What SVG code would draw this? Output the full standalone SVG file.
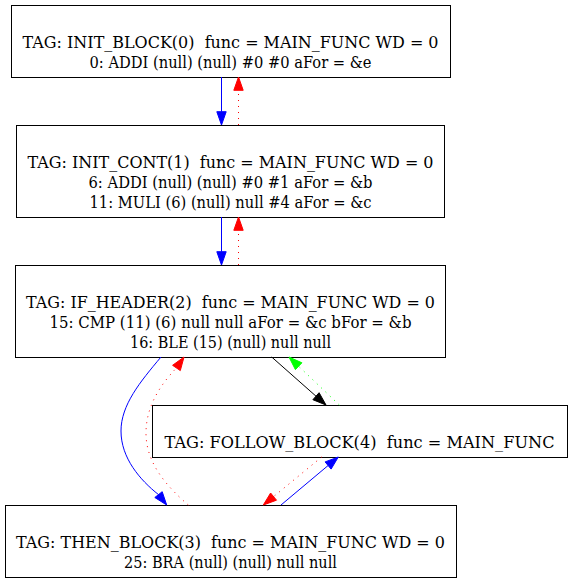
<svg xmlns="http://www.w3.org/2000/svg" width="573" height="583" viewBox="0 0 573 583">
<style>
.box{fill:#ffffff;stroke:#000000;stroke-width:1}
.lbl{font-family:'DejaVu Serif','Liberation Serif',serif;font-size:16.5px;fill:#000000;text-anchor:middle;white-space:pre}
.e{fill:none;stroke-width:1}
.dot{stroke-dasharray:1,5}
</style>
<rect x="0" y="0" width="573" height="583" fill="#ffffff"/>
<g id="node0">
<rect class="box" x="11.5" y="5.5" width="439" height="72"/>
<text class="lbl" x="230.5" y="47.7" xml:space="preserve" textLength="416" lengthAdjust="spacingAndGlyphs">TAG: INIT_BLOCK(0)  func = MAIN_FUNC WD = 0</text>
<text class="lbl" x="230.5" y="67.7" xml:space="preserve" textLength="282" lengthAdjust="spacingAndGlyphs">0: ADDI (null) (null) #0 #0 aFor = &amp;e</text>
</g>
<g id="node1">
<rect class="box" x="16.5" y="125.5" width="428" height="92"/>
<text class="lbl" x="230.5" y="167.7" xml:space="preserve" textLength="406" lengthAdjust="spacingAndGlyphs">TAG: INIT_CONT(1)  func = MAIN_FUNC WD = 0</text>
<text class="lbl" x="230.5" y="187.7" xml:space="preserve" textLength="284" lengthAdjust="spacingAndGlyphs">6: ADDI (null) (null) #0 #1 aFor = &amp;b</text>
<text class="lbl" x="230.5" y="207.7" xml:space="preserve" textLength="282" lengthAdjust="spacingAndGlyphs">11: MULI (6) (null) null #4 aFor = &amp;c</text>
</g>
<g id="node2">
<rect class="box" x="15.5" y="265.5" width="430" height="92"/>
<text class="lbl" x="230.5" y="307.7" xml:space="preserve" textLength="409" lengthAdjust="spacingAndGlyphs">TAG: IF_HEADER(2)  func = MAIN_FUNC WD = 0</text>
<text class="lbl" x="230.5" y="327.7" xml:space="preserve" textLength="362" lengthAdjust="spacingAndGlyphs">15: CMP (11) (6) null null aFor = &amp;c bFor = &amp;b</text>
<text class="lbl" x="230.5" y="347.7" xml:space="preserve" textLength="201" lengthAdjust="spacingAndGlyphs">16: BLE (15) (null) null null</text>
</g>
<g id="node4">
<rect class="box" x="152.5" y="405.5" width="415" height="52"/>
<text class="lbl" x="359.5" y="447.7" xml:space="preserve" textLength="390" lengthAdjust="spacingAndGlyphs">TAG: FOLLOW_BLOCK(4)  func = MAIN_FUNC</text>
</g>
<g id="node3">
<rect class="box" x="5.5" y="505.5" width="451" height="72"/>
<text class="lbl" x="230.5" y="547.7" xml:space="preserve" textLength="429" lengthAdjust="spacingAndGlyphs">TAG: THEN_BLOCK(3)  func = MAIN_FUNC WD = 0</text>
<text class="lbl" x="230.5" y="567.7" xml:space="preserve" textLength="213" lengthAdjust="spacingAndGlyphs">25: BRA (null) (null) null null</text>
</g>
<g id="edges">
<path class="e" stroke="#0000ff" d="M221.5,77 L221.5,111.7"/>
<polygon fill="#0000ff" stroke="#0000ff" points="221.5,125 216.8,111.7 226.2,111.7"/>
<path class="e dot" stroke="#ff0000" d="M238.5,125 L238.5,90.3"/>
<polygon fill="#ff0000" stroke="#ff0000" points="238.5,77 233.8,90.3 243.2,90.3"/>
<path class="e" stroke="#0000ff" d="M221.5,217 L221.5,251.7"/>
<polygon fill="#0000ff" stroke="#0000ff" points="221.5,265 216.8,251.7 226.2,251.7"/>
<path class="e dot" stroke="#ff0000" d="M238.5,265 L238.5,230.3"/>
<polygon fill="#ff0000" stroke="#ff0000" points="238.5,217 233.8,230.3 243.2,230.3"/>
<path class="e" stroke="#000000" d="M271.7,357 L316,396.2"/>
<polygon fill="#000000" stroke="#000000" points="326,405 312.9,399.7 319.1,392.7"/>
<path class="e dot" stroke="#00ff00" d="M339.3,405 L298.6,366.2"/>
<polygon fill="#00ff00" stroke="#00ff00" points="289,357 301.9,362.8 295.4,369.6"/>
<path class="e" stroke="#0000ff" d="M161,357 C140,382 121,405 121,431 C121,458 140,480 158.5,494.6"/>
<polygon fill="#0000ff" stroke="#0000ff" points="166.7,505 154.8,497.5 162.2,491.7"/>
<path class="e dot" stroke="#ff0000" d="M188.3,505 C165,485 146,462 146,433 C146,405 162,383 176.4,368"/>
<polygon fill="#ff0000" stroke="#ff0000" points="184,357 180.3,370.6 172.6,365.3"/>
<path class="e dot" stroke="#ff0000" d="M321.7,457 L273.6,496.6"/>
<polygon fill="#ff0000" stroke="#ff0000" points="263.3,505 276.5,500.2 270.6,493"/>
<path class="e" stroke="#0000ff" d="M281,505 L328.1,465.5"/>
<polygon fill="#0000ff" stroke="#0000ff" points="338.3,457 331.1,469.1 325.1,461.9"/>
</g>
</svg>
